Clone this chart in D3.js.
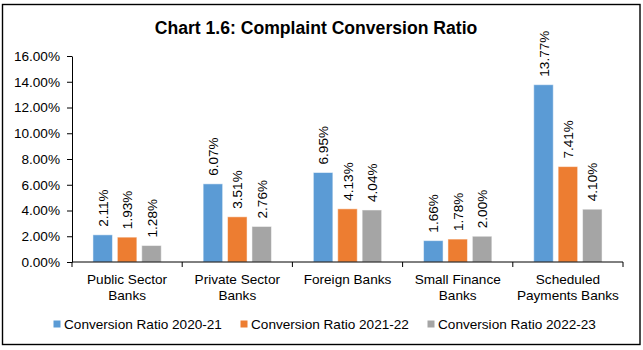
<!DOCTYPE html>
<html lang="en">
<head>
<meta charset="UTF-8">
<title>Complaint Conversion Ratio</title>
<script src="https://d3js.org/d3.v7.min.js"></script>
<style>
  body { margin: 0; background: #fff; }
  svg { font-family: "Liberation Sans", Arial, sans-serif; }
</style>
</head>
<body>
<svg width="643" height="350"></svg>
<script>
// chart data
const categories = [["Public Sector", "Banks"], ["Private Sector", "Banks"], ["Foreign Banks"],
                    ["Small Finance", "Banks"], ["Scheduled", "Payments Banks"]];
const seriesNames = ["Conversion Ratio 2020-21", "Conversion Ratio 2021-22", "Conversion Ratio 2022-23"];
const ratio2021 = [2.11, 6.07, 6.95, 1.66, 13.77];
const ratio2122 = [1.93, 3.51, 4.13, 1.78, 7.41];
const ratio2223 = [1.28, 2.76, 4.04, 2.00, 4.10];
const yTicks = [0, 2, 4, 6, 8, 10, 12, 14, 16];

const colors = ["#5B9BD5", "#ED7D31", "#A5A5A5"];
const series = [ratio2021, ratio2122, ratio2223];
const fs = 13.6;

const svg = d3.select("svg");

// outer frame
svg.append("rect")
    .attr("x", 2.5).attr("y", 4.5)
    .attr("width", 637.5).attr("height", 340)
    .attr("fill", "none").attr("stroke", "#000").attr("stroke-width", 1.4);

svg.append("text")
    .attr("x", 316).attr("y", 33.5)
    .attr("text-anchor", "middle")
    .attr("font-size", 17.6).attr("font-weight", "bold")
    .text("Chart 1.6: Complaint Conversion Ratio");

const plotL = 72, plotR = 623, plotT = 56, plotB = 262;

const x = d3.scaleBand()
    .domain(d3.range(categories.length))
    .range([plotL, plotR]);

const y = d3.scaleLinear().domain([0, 16]).range([plotB, plotT]);

const barW = 19.5, step = 24.4;

// y axis
const yAxis = svg.append("g")
    .attr("transform", `translate(${plotL},0)`)
    .call(d3.axisLeft(y).tickValues(yTicks).tickSize(5).tickSizeOuter(0)
        .tickFormat(d => d.toFixed(2) + "%"));
yAxis.select(".domain").attr("stroke", "#000");
yAxis.selectAll("line").attr("stroke", "#000");
yAxis.selectAll("text").attr("font-size", fs).attr("fill", "#000")
    .attr("font-family", "Liberation Sans, Arial, sans-serif").attr("x", -12);

// bars
const groups = svg.append("g").selectAll("g")
    .data(series).join("g");

groups.each(function(vals, si) {
  const g = d3.select(this);
  vals.forEach((v, ci) => {
    const cx = x(ci) + x.bandwidth() / 2 + (si - 1) * step;
    g.append("rect")
        .attr("x", cx - barW / 2)
        .attr("y", y(v))
        .attr("width", barW)
        .attr("height", plotB - y(v))
        .attr("fill", colors[si])
        .attr("stroke", "#fff").attr("stroke-opacity", 0.5).attr("stroke-width", 1);
    g.append("text")
        .attr("transform", `translate(${cx + 5},${y(v) - 8}) rotate(-90)`)
        .attr("font-size", fs).attr("fill", "#000")
        .text(v.toFixed(2) + "%");
  });
});

// x axis
const xAxis = svg.append("g")
    .attr("transform", `translate(0,${plotB})`);
xAxis.append("line")
    .attr("x1", plotL).attr("x2", plotR)
    .attr("stroke", "#000");
xAxis.selectAll(".tk")
    .data(d3.range(categories.length + 1))
    .join("line")
    .attr("class", "tk")
    .attr("x1", i => i < categories.length ? x(i) : plotR)
    .attr("x2", i => i < categories.length ? x(i) : plotR)
    .attr("y1", 0).attr("y2", 5)
    .attr("stroke", "#000");

const catLabels = svg.append("g").selectAll("text")
    .data(categories).join("text")
    .attr("text-anchor", "middle")
    .attr("font-size", fs).attr("fill", "#000");
catLabels.each(function(lines, i) {
  const t = d3.select(this);
  lines.forEach((ln, k) => {
    t.append("tspan")
        .attr("x", x(i) + x.bandwidth() / 2)
        .attr("y", 284 + k * 15.5)
        .text(ln);
  });
});

// legend
const legend = svg.append("g").selectAll("g")
    .data(seriesNames).join("g")
    .attr("transform", (d, i) => `translate(${64 + i * 187},0)`);
legend.append("rect")
    .attr("x", -10.5).attr("y", 320.5)
    .attr("width", 7).attr("height", 7)
    .attr("fill", (d, i) => colors[i]);
legend.append("text")
    .attr("x", 0).attr("y", 329)
    .attr("font-size", fs).attr("fill", "#000")
    .text(d => d);
</script>
</body>
</html>
